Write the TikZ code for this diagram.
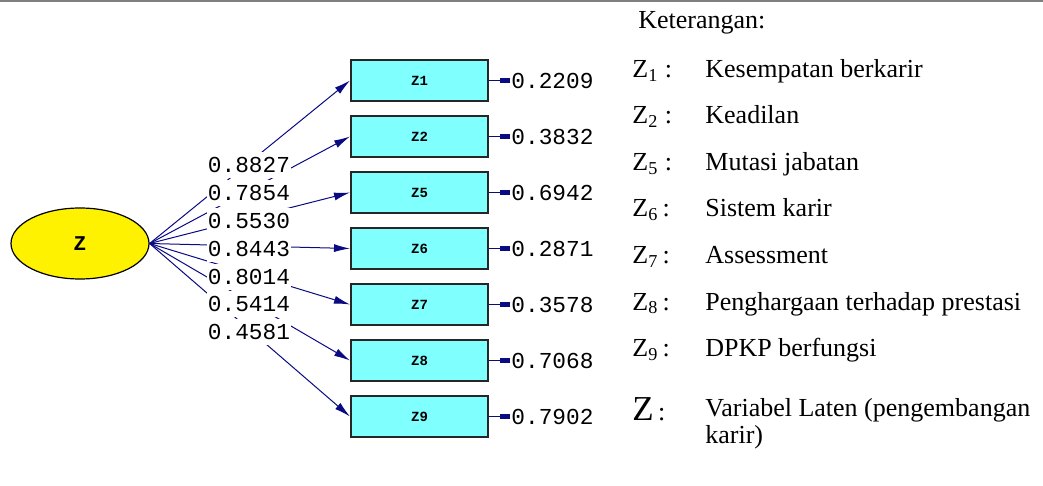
\documentclass[tikz,border=0pt]{standalone}
\usepackage{fontspec}
\setmainfont{Liberation Serif}
\newfontfamily\lisfont{Liberation Mono}
\usepackage{tikz}
\usetikzlibrary{shapes,arrows.meta,positioning}

\definecolor{lisnavy}{RGB}{10,10,130}
\definecolor{liscyan}{RGB}{128,255,255}

\begin{document}
\begin{tikzpicture}[x=0.5pt,y=-0.5pt]
	\tikzstyle{Latent}	= [ellipse, draw=black, line width=0.6pt, fill=yellow, minimum width=69pt, minimum height=35.5pt, inner sep=0pt, font=\lisfont\bfseries\fontsize{10.5}{11}\selectfont]
	\tikzstyle{Obs}		= [rectangle, draw=black!85, line width=1pt, fill=liscyan, minimum width=68.5pt, minimum height=20.5pt, inner sep=0pt, font=\lisfont\bfseries\fontsize{7}{8}\selectfont]
	\tikzstyle{Coef}	= [fill=white, inner xsep=0.5pt, inner ysep=0pt, minimum height=13pt, font=\lisfont\fontsize{11.4}{12}\selectfont]
	\tikzstyle{ErrVal}	= [anchor=west, inner xsep=0.5pt, font=\lisfont\fontsize{11.4}{12}\selectfont]
	\tikzstyle{Load}	= [lisnavy, line width=0.5pt, -{Latex[length=8pt,width=4pt]}]
	\tikzstyle{Err}		= [lisnavy, line width=0.5pt, -{Rectangle[length=5pt,width=2.6pt]}]
	\tikzstyle{Key}		= [anchor=base west, inner sep=0pt, font=\fontsize{13}{15}\selectfont]

	% frame rule
	\useasboundingbox (0,0) rectangle (1043,486);
	\draw [gray, line width=1pt] (0,1) -- (1043,1);

	% model
	\node (z) at (80, 243.5) [Latent] {Z};
	\node (z1) at (419.5, 80.5) [Obs] {Z1};
	\node (z2) at (419.5, 136.5) [Obs] {Z2};
	\node (z5) at (419.5, 192.5) [Obs] {Z5};
	\node (z6) at (419.5, 248.5) [Obs] {Z6};
	\node (z7) at (419.5, 304.5) [Obs] {Z7};
	\node (z8) at (419.5, 360.5) [Obs] {Z8};
	\node (z9) at (419.5, 416.5) [Obs] {Z9};

	\draw (z.east) to (z1.west) [Load];
	\draw (z.east) to (z2.west) [Load];
	\draw (z.east) to (z5.west) [Load];
	\draw (z.east) to (z6.west) [Load];
	\draw (z.east) to (z7.west) [Load];
	\draw (z.east) to (z8.west) [Load];
	\draw (z.east) to (z9.west) [Load];

	% loadings, on top of the paths
	\node (c1) at (249, 165) [Coef] {0.8827};
	\node (c2) at (249, 193) [Coef] {0.7854};
	\node (c5) at (249, 221) [Coef] {0.5530};
	\node (c6) at (249, 248.5) [Coef] {0.8443};
	\node (c7) at (249, 276.5) [Coef] {0.8014};
	\node (c8) at (249, 304) [Coef] {0.5414};
	\node (c9) at (249, 332) [Coef] {0.4581};

	% error variances
	\node (e1) at (510, 80.5) [ErrVal] {0.2209};
	\node (e2) at (510, 136.5) [ErrVal] {0.3832};
	\node (e5) at (510, 192.5) [ErrVal] {0.6942};
	\node (e6) at (510, 248.5) [ErrVal] {0.2871};
	\node (e7) at (510, 304.5) [ErrVal] {0.3578};
	\node (e8) at (510, 360.5) [ErrVal] {0.7068};
	\node (e9) at (510, 416.5) [ErrVal] {0.7902};

	\draw (z1.east) to (e1.west) [Err];
	\draw (z2.east) to (e2.west) [Err];
	\draw (z5.east) to (e5.west) [Err];
	\draw (z6.east) to (e6.west) [Err];
	\draw (z7.east) to (e7.west) [Err];
	\draw (z8.east) to (e8.west) [Err];
	\draw (z9.east) to (e9.west) [Err];

	% legend
	\node (ket) at (638, 29) [Key] {Keterangan:};
	\node (k1) at (632, 77.5) [Key] {Z\textsubscript{1} :};
	\node (k2) at (632, 124) [Key] {Z\textsubscript{2} :};
	\node (k5) at (632, 170.5) [Key] {Z\textsubscript{5} :};
	\node (k6) at (632, 217) [Key] {Z\textsubscript{6}\,:};
	\node (k7) at (632, 263.5) [Key] {Z\textsubscript{7}\,:};
	\node (k8) at (632, 310) [Key] {Z\textsubscript{8}\,:};
	\node (k9) at (632, 356.5) [Key] {Z\textsubscript{9}\,:};
	\node (kz) at (632, 420) [Key] {{\fontsize{17.5}{17.5}\selectfont Z}\,:};

	\node (d1) at (705, 77.5) [Key] {Kesempatan berkarir};
	\node (d2) at (705, 124) [Key] {Keadilan};
	\node (d5) at (705, 170.5) [Key] {Mutasi jabatan};
	\node (d6) at (705, 217) [Key] {Sistem karir};
	\node (d7) at (705, 263.5) [Key] {Assessment};
	\node (d8) at (705, 310) [Key] {Penghargaan terhadap prestasi};
	\node (d9) at (705, 356.5) [Key] {DPKP berfungsi};
	\node (dz) at (705, 416) [Key] {Variabel Laten (pengembangan};
	\node (dz2) at (705, 443) [Key] {karir)};
\end{tikzpicture}
\end{document}
